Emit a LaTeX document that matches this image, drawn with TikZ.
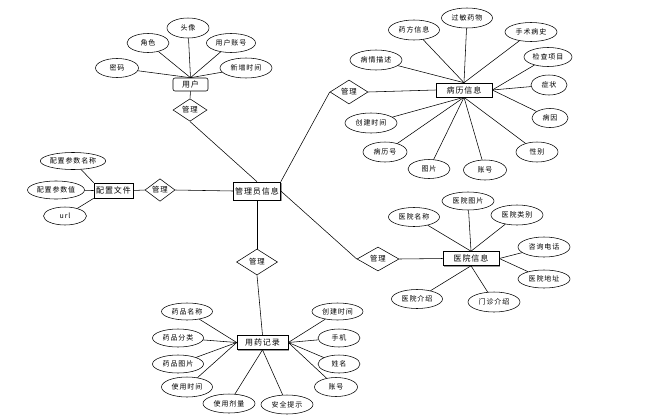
\documentclass[tikz,border=0pt]{standalone}
\usepackage{fontspec}
\newfontfamily\cjk{Noto Sans CJK SC}[LetterSpace=12]
\usetikzlibrary{shapes.geometric,shadows}
\begin{document}
\begin{tikzpicture}[x=1pt,y=-1pt,
  every path/.style={line width=0.55pt},
  ent/.style={draw, rectangle, inner sep=0pt, minimum height=14, line width=0.6pt,
    font=\cjk\fontsize{8}{9}\selectfont, fill=white,
    drop shadow={shadow xshift=1pt, shadow yshift=-1pt, fill=gray!80, opacity=1}},
  attr/.style={draw, ellipse, inner sep=0pt, minimum width=51, minimum height=19,
    font=\cjk\fontsize{7}{8}\selectfont},
  rel/.style={draw, diamond, inner sep=0pt, font=\cjk\fontsize{7.4}{8}\selectfont}
]
\useasboundingbox[fill=white] (0,0) rectangle (669,418);

% ---- user ----
\node[draw, rectangle, rounded corners=2pt, minimum width=35, minimum height=13, inner sep=0pt,
  line width=0.6pt, font=\cjk\fontsize{8}{9}\selectfont] (usr) at (190.5,84.5) {用户};
\node[attr, minimum width=43] (u1) at (117,68) {密码};
\node[attr, minimum width=42] (u2) at (148,43) {角色};
\node[attr, minimum width=42, minimum height=20] (u3) at (188,28) {头像};
\node[attr, minimum width=49] (u4) at (231,43) {用户账号};
\node[attr, minimum width=52, minimum height=20] (u5) at (246,68) {新增时间};
\node[rel, minimum width=34, minimum height=22] (r1) at (190,110) {管理};

% ---- admin ----
\node[ent, minimum width=47, minimum height=18] (admin) at (257,191) {管理员信息};

% ---- config ----
\node[ent, minimum width=39, minimum height=15] (cfg) at (113.5,190.5) {配置文件};
\node[rel, minimum width=30, minimum height=17] (r2) at (160,190) {管理};
\node[attr, minimum width=64, minimum height=17] (c1) at (73,161) {配置参数名称};
\node[attr, minimum width=57, minimum height=18] (c2) at (56,190) {配置参数值};
\node[attr, minimum width=43, minimum height=18] (c3) at (65,216) {url};

% ---- medical record ----
\node[ent, minimum width=56, minimum height=14] (bl) at (464,90) {病历信息};
\node[rel, minimum width=38, minimum height=24] (r3) at (349,92) {管理};
\node[attr, minimum width=52, minimum height=20] (b1) at (376,60) {病情描述};
\node[attr, minimum width=51, minimum height=20] (b2) at (414,30) {药方信息};
\node[attr, minimum width=51, minimum height=20] (b3) at (467,18) {过敏药物};
\node[attr, minimum width=52] (b4) at (531,32) {手术病史};
\node[attr, minimum width=48] (b5) at (548,57) {检查项目};
\node[attr, minimum width=36, minimum height=20] (b6) at (549,85) {症状};
\node[attr, minimum width=36] (b7) at (550,118) {病因};
\node[attr, minimum width=42, minimum height=20] (b8) at (537,152) {性别};
\node[attr, minimum width=43, minimum height=20] (b9) at (485,170) {账号};
\node[attr, minimum width=42] (b10) at (429,169) {图片};
\node[attr, minimum width=44, minimum height=20] (b11) at (385,152) {病历号};
\node[attr, minimum width=52, minimum height=20] (b12) at (371,123) {创建时间};

% ---- hospital ----
\node[ent, minimum width=56, minimum height=14] (hos) at (471,258.5) {医院信息};
\node[rel, minimum width=42, minimum height=24] (r4) at (378,259) {管理};
\node[attr] (h1) at (414,217) {医院名称};
\node[attr, minimum width=52, minimum height=18] (h2) at (468,201) {医院图片};
\node[attr, minimum width=52, minimum height=20] (h3) at (517,215) {医院类别};
\node[attr, minimum width=52, minimum height=20] (h4) at (544,247) {咨询电话};
\node[attr, minimum width=52, minimum height=18] (h5) at (544,279) {医院地址};
\node[attr, minimum width=52, minimum height=20] (h6) at (494,302) {门诊介绍};
\node[attr] (h7) at (417,299) {医院介绍};

% ---- medication ----
\node[ent, minimum width=51, minimum height=14] (med) at (262.5,342.5) {用药记录};
\node[rel, minimum width=41, minimum height=26] (r5) at (257,262) {管理};
\node[attr, minimum height=17] (m1) at (187,311.5) {药品名称};
\node[attr, minimum height=18] (m2) at (178,338) {药品分类};
\node[attr, minimum height=18] (m3) at (178,364) {药品图片};
\node[attr, minimum height=20] (m4) at (187,387) {使用时间};
\node[attr, minimum width=52] (m5) at (229,403.5) {使用剂量};
\node[attr, minimum width=52] (m6) at (287,404.5) {安全提示};
\node[attr, minimum height=17] (m7) at (337.5,311.5) {创建时间};
\node[attr, minimum width=42, minimum height=18] (m8) at (339,338) {手机};
\node[attr, minimum width=42, minimum height=18] (m9) at (339,364) {姓名};
\node[attr, minimum width=43] (m10) at (336,387) {账号};

% ---- connectors ----
\foreach \a in {u1,u2,u3,u4,u5} \draw (\a) -- (usr.north);
\draw (usr.south) -- (r1.north);
\draw (r1.south) -- (admin.north);

\draw (c1) -- (cfg.north west);
\draw (c2) -- (cfg.west);
\draw (c3) -- (cfg.south west);
\draw (r2.west) -- (cfg.east);
\draw (r2.east) -- (admin.west);

\draw (admin.north east) -- (r3.west);
\draw (r3.east) -- (bl.west);
\foreach \a in {b1,b2,b3,b4} \draw (\a) -- (bl.north);
\foreach \a in {b5,b6,b7} \draw (\a) -- (bl.east);
\foreach \a in {b8,b9,b10,b11,b12} \draw (\a) -- (bl.south);

\draw (admin.east) -- (r4.west);
\draw (r4.east) -- (hos.west);
\foreach \a in {h1,h2,h3} \draw (\a) -- (hos.north);
\foreach \a in {h4,h5} \draw (\a) -- (hos.east);
\foreach \a in {h6,h7} \draw (\a) -- (hos.south);

\draw (admin.south) -- (r5.north);
\draw (r5.south) -- (med.north);
\foreach \a in {m1,m2,m3,m4} \draw (\a) -- (med.west);
\foreach \a in {m7,m8,m9,m10} \draw (\a) -- (med.east);
\foreach \a in {m5,m6} \draw (\a) -- (med.south);
\end{tikzpicture}
\end{document}
